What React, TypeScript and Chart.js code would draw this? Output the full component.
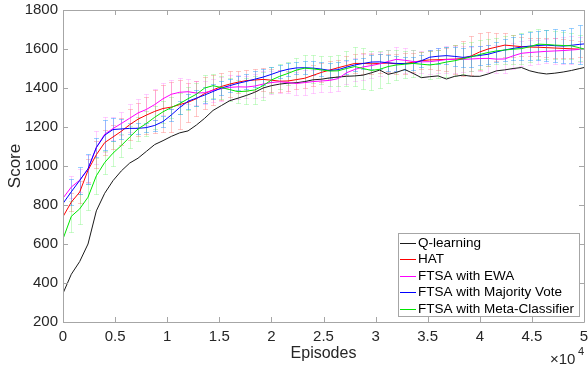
import { useEffect, useRef } from "react";
import { Chart, registerables } from "chart.js";

Chart.register(...registerables);

const FONT = "'Liberation Sans', Arial, Helvetica, sans-serif";

const episodes = [
  0, 800, 1600, 2400, 3200, 4000, 4800, 5600, 6400, 7200, 8000, 8800, 9600, 10400, 11200, 12000,
  12800, 13600, 14400, 15200, 16000, 16800, 17600, 18400, 19200, 20000, 20800, 21600, 22400, 23200, 24000, 24800,
  25600, 26400, 27200, 28000, 28800, 29600, 30400, 31200, 32000, 32800, 33600, 34400, 35200, 36000, 36800, 37600,
  38400, 39200, 40000, 40800, 41600, 42400, 43200, 44000, 44800, 45600, 46400, 47200, 48000, 48800, 49600, 50000,
];

const xTickLabels = ["0", "0.5", "1", "1.5", "2", "2.5", "3", "3.5", "4", "4.5", "5"];
const yTickValues = [200, 400, 600, 800, 1000, 1200, 1400, 1600, 1800];

const qLearning = [
  347, 445, 510, 600, 770, 860, 925, 975, 1015, 1040, 1075, 1110, 1130, 1152, 1170, 1180,
  1210, 1245, 1285, 1310, 1335, 1348, 1362, 1378, 1400, 1412, 1420, 1425, 1427, 1433, 1442, 1445,
  1452, 1456, 1460, 1462, 1466, 1478, 1492, 1470, 1480, 1495, 1475, 1453, 1458, 1462, 1446, 1460,
  1466, 1460, 1460, 1472, 1488, 1493, 1500, 1505, 1488, 1478, 1472, 1476, 1482, 1490, 1500, 1505,
];

const hat = [
  740, 815, 866, 978, 1058, 1120, 1149, 1178, 1212, 1240, 1261, 1280, 1295, 1302, 1315, 1327,
  1345, 1372, 1390, 1408, 1420, 1430, 1438, 1441, 1444, 1440, 1435, 1436, 1443, 1450, 1465, 1480,
  1492, 1504, 1515, 1526, 1526, 1524, 1526, 1528, 1524, 1526, 1532, 1540, 1544, 1545, 1547, 1548,
  1552, 1565, 1585, 1600, 1610, 1620, 1616, 1612, 1610, 1609, 1607, 1605, 1603, 1601, 1599, 1598,
];

const ewa = [
  835, 892, 927, 985, 1095, 1163, 1192, 1218, 1245, 1272, 1290, 1315, 1345, 1368, 1378, 1381,
  1374, 1376, 1388, 1396, 1403, 1406, 1405, 1410, 1420, 1428, 1432, 1428, 1423, 1428, 1433, 1436,
  1439, 1448, 1478, 1495, 1508, 1515, 1524, 1536, 1547, 1542, 1536, 1534, 1535, 1540, 1546, 1547,
  1547, 1549, 1551, 1552, 1548, 1549, 1565, 1578, 1582, 1585, 1588, 1590, 1592, 1595, 1598, 1600,
];

const majority = [
  808, 868, 926, 985, 1095, 1158, 1187, 1190, 1193, 1193, 1197, 1208, 1228, 1262, 1300, 1332,
  1348, 1364, 1382, 1400, 1412, 1424, 1434, 1445, 1456, 1470, 1485, 1496, 1503, 1504, 1502, 1497,
  1490, 1494, 1507, 1518, 1526, 1533, 1534, 1529, 1526, 1525, 1526, 1540, 1558, 1563, 1566, 1562,
  1557, 1562, 1567, 1573, 1585, 1595, 1603, 1610, 1615, 1618, 1620, 1617, 1615, 1619, 1624, 1626,
];

const meta = [
  626, 742, 780, 840, 950, 1018, 1066, 1105, 1148, 1190, 1218, 1250, 1278, 1300, 1320, 1345,
  1368, 1400, 1412, 1402, 1392, 1381, 1384, 1390, 1412, 1441, 1460, 1475, 1492, 1502, 1498, 1493,
  1487, 1488, 1500, 1510, 1500, 1490, 1496, 1510, 1518, 1522, 1526, 1522, 1518, 1524, 1533, 1540,
  1550, 1560, 1572, 1582, 1590, 1595, 1599, 1602, 1612, 1625, 1623, 1620, 1618, 1616, 1606, 1600,
];

// error half-widths at episodes[1..62]
const hatErr = [
  45, 55, 60, 70, 65, 60, 70, 80, 85, 95,
  110, 120, 130, 125, 100, 90, 82, 78, 70, 68,
  55, 52, 55, 60, 58, 55, 50, 48, 52, 55,
  50, 45, 42, 48, 50, 55, 52, 48, 45, 50,
  55, 50, 45, 48, 52, 60, 75, 90, 100, 95,
  85, 70, 60, 55, 50, 48, 45, 48, 52, 50, 45, 42,
];
const ewaErr = [
  55, 60, 70, 85, 90, 60, 60, 72, 72, 78,
  80, 82, 75, 72, 65, 62, 60, 58, 62, 65,
  60, 58, 62, 65, 60, 58, 55, 60, 62, 58,
  55, 60, 62, 58, 60, 65, 62, 60, 58, 62,
  65, 60, 58, 62, 65, 68, 70, 66, 62, 65,
  68, 70, 72, 68, 65, 62, 60, 62, 65, 68, 70, 66,
];
const majorityErr = [
  67, 70, 75, 50, 78, 58, 50, 30, 28, 25,
  28, 30, 32, 35, 38, 40, 42, 38, 35, 32,
  35, 38, 40, 42, 38, 35, 32, 30, 32, 35,
  38, 40, 38, 35, 32, 30, 35, 38, 40, 38,
  35, 32, 30, 35, 40, 45, 48, 50, 52, 50,
  48, 50, 55, 60, 65, 70, 75, 80, 85, 85, 90, 100,
];
const metaErr = [
  80, 75, 68, 92, 60, 64, 58, 55, 60, 62,
  58, 55, 52, 55, 58, 60, 65, 62, 60, 58,
  60, 65, 70, 72, 68, 65, 60, 62, 65, 70,
  72, 75, 80, 90, 100, 105, 100, 95, 85, 75,
  70, 68, 65, 70, 72, 75, 78, 80, 75, 72,
  70, 68, 72, 75, 78, 80, 78, 75, 72, 70, 68, 65,
];

const seriesNames = [
  "Q-learning",
  "HAT",
  "FTSA with EWA",
  "FTSA with Majority Vote",
  "FTSA with Meta-Classifier",
];
const seriesValues = [qLearning, hat, ewa, majority, meta];
const seriesColors = ["#1a1a1a", "#ff0000", "#ff00ff", "#0000ff", "#00e600"];
const errSeries = [
  { values: hat, err: hatErr, color: "rgba(255,70,70,0.3)" },
  { values: ewa, err: ewaErr, color: "rgba(255,70,255,0.26)" },
  { values: meta, err: metaErr, color: "rgba(70,240,70,0.28)" },
  { values: majority, err: majorityErr, color: "rgba(30,150,255,0.45)" },
];

const framePlugin = {
  id: "framePlugin",
  beforeDatasetsDraw(chart: any) {
    const { ctx, chartArea, scales } = chart;
    const xs = scales.x;
    const ys = scales.y;
    ctx.save();
    ctx.beginPath();
    ctx.rect(chartArea.left, chartArea.top, chartArea.right - chartArea.left, chartArea.bottom - chartArea.top);
    ctx.clip();
    ctx.lineWidth = 1;
    for (const s of errSeries) {
      ctx.strokeStyle = s.color;
      ctx.beginPath();
      for (let i = 0; i < s.err.length; i++) {
        const idx = i + 1;
        const px = Math.round(xs.getPixelForValue(episodes[idx])) + 0.5;
        const t = Math.round(ys.getPixelForValue(s.values[idx] + s.err[i])) + 0.5;
        const b = Math.round(ys.getPixelForValue(s.values[idx] - s.err[i])) + 0.5;
        ctx.moveTo(px, t);
        ctx.lineTo(px, b);
        ctx.moveTo(px - 2.5, t);
        ctx.lineTo(px + 2.5, t);
        ctx.moveTo(px - 2.5, b);
        ctx.lineTo(px + 2.5, b);
      }
      ctx.stroke();
    }
    ctx.restore();
  },
  afterDraw(chart: any) {
    const { ctx, chartArea, scales } = chart;
    const xs = scales.x;
    const ys = scales.y;
    const L = chartArea.left, R = chartArea.right, T = chartArea.top, B = chartArea.bottom;
    ctx.save();
    ctx.strokeStyle = "#a6a6a6";
    ctx.lineWidth = 1;
    ctx.beginPath();
    ctx.rect(Math.round(L) + 0.5, Math.round(T) + 0.5, Math.round(R - L), Math.round(B - T));
    ctx.stroke();
    ctx.beginPath();
    for (let i = 0; i < xTickLabels.length; i++) {
      const px = Math.round(xs.getPixelForValue(i * 5000)) + 0.5;
      ctx.moveTo(px, B);
      ctx.lineTo(px, B - 5);
      ctx.moveTo(px, T);
      ctx.lineTo(px, T + 5);
    }
    for (const v of yTickValues) {
      const py = Math.round(ys.getPixelForValue(v)) + 0.5;
      ctx.moveTo(L, py);
      ctx.lineTo(L + 5, py);
      ctx.moveTo(R, py);
      ctx.lineTo(R - 5, py);
    }
    ctx.stroke();

    // axis titles
    ctx.fillStyle = "#262626";
    ctx.textAlign = "center";
    ctx.textBaseline = "middle";
    ctx.font = `16px ${FONT}`;
    ctx.fillText("Episodes", (L + R) / 2, 354);
    ctx.save();
    ctx.translate(15, (T + B) / 2);
    ctx.rotate(-Math.PI / 2);
    ctx.font = `17px ${FONT}`;
    ctx.fillText("Score", 0, 0);
    ctx.restore();

    // exponent
    ctx.textAlign = "left";
    ctx.textBaseline = "alphabetic";
    ctx.font = `15px ${FONT}`;
    ctx.fillText("×10", 550, 364);
    ctx.font = `11px ${FONT}`;
    ctx.fillText("4", 578, 355);

    // legend
    const lx = 398.5, ly = 233.5, lw = 181, lh = 83;
    ctx.fillStyle = "#ffffff";
    ctx.fillRect(lx, ly, lw, lh);
    ctx.strokeStyle = "#a6a6a6";
    ctx.strokeRect(lx, ly, lw, lh);
    ctx.font = `13.5px ${FONT}`;
    ctx.textBaseline = "middle";
    for (let i = 0; i < seriesNames.length; i++) {
      const yy = 242.5 + i * 16.5;
      ctx.strokeStyle = seriesColors[i];
      ctx.beginPath();
      ctx.moveTo(400, Math.round(yy) + 0.5);
      ctx.lineTo(416, Math.round(yy) + 0.5);
      ctx.stroke();
      ctx.fillStyle = "#000000";
      ctx.fillText(seriesNames[i], 418, yy + 0.5);
    }
    ctx.restore();
  },
};

export default function App() {
  const canvasRef = useRef<HTMLCanvasElement | null>(null);

  useEffect(() => {
    if (!canvasRef.current) return;
    const datasets = seriesNames.map((name, si) => ({
      label: name,
      data: episodes.map((e, i) => ({ x: e, y: seriesValues[si][i] })),
      borderColor: seriesColors[si],
      backgroundColor: seriesColors[si],
      borderWidth: 1,
      pointRadius: 0,
      tension: 0,
      fill: false,
      order: seriesNames.length - si,
    }));
    const chart = new Chart(canvasRef.current, {
      type: "line",
      data: { datasets },
      plugins: [framePlugin],
      options: {
        animation: false,
        responsive: false,
        devicePixelRatio: 1,
        layout: { padding: { top: 1, right: 0, left: 0, bottom: 0 } },
        plugins: { legend: { display: false }, tooltip: { enabled: false } },
        scales: {
          x: {
            type: "linear",
            min: 0,
            max: 50000,
            grid: { display: false, drawTicks: false },
            border: { display: false },
            ticks: {
              stepSize: 5000,
              padding: 6,
              maxRotation: 0,
              autoSkip: false,
              color: "#262626",
              font: { family: FONT, size: 15 },
              callback: (_v: any, index: number) => xTickLabels[index],
            },
            afterFit: (scale: any) => {
              scale.height = 47;
              scale.paddingRight = 4;
            },
          },
          y: {
            type: "linear",
            min: 200,
            max: 1800,
            grid: { display: false, drawTicks: false },
            border: { display: false },
            ticks: {
              stepSize: 200,
              padding: 5,
              autoSkip: false,
              color: "#262626",
              font: { family: FONT, size: 15 },
              callback: (v: any) => String(v),
            },
            afterFit: (scale: any) => {
              scale.width = 63;
              scale.paddingTop = 10;
            },
          },
        },
      } as any,
    });
    return () => chart.destroy();
  }, []);

  return (
    <div style={{ position: "absolute", left: 0, top: 0, width: 588, height: 369, background: "#fff" }}>
      <canvas ref={canvasRef} width={588} height={369} style={{ width: 588, height: 369 }} />
    </div>
  );
}
